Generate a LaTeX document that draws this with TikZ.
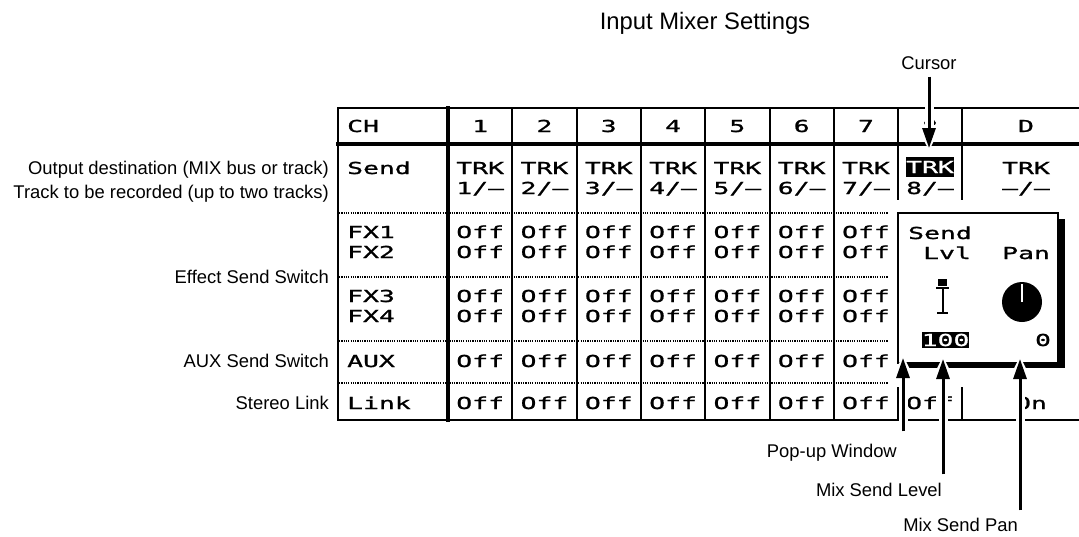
\documentclass[tikz,border=0pt]{standalone}
\usepackage{fontspec}
\setmainfont{Liberation Sans}
\newfontfamily\lcdfont[FakeStretch=1.6, FakeBold=1.2]{DejaVu Sans Mono}
\usetikzlibrary{arrows.meta,positioning}
\tikzset{
  lbl/.style    ={font=\fontsize{18.4}{22}\selectfont, inner sep=0pt,
                  text height=13pt, text depth=0pt},
  ttl/.style    ={font=\fontsize{23.8}{28}\selectfont, inner sep=0pt},
  lcd/.style    ={font=\lcdfont\fontsize{16.5}{20}\selectfont, inner sep=0pt,
                  text height=12pt, text depth=0pt},
  inv/.style    ={lcd, fill=black, text=white, inner ysep=4pt},
  grid/.style   ={line width=2pt, line cap=rect},
  heavy/.style  ={line width=4pt, line cap=rect},
  dots/.style   ={line width=1.3pt, dash pattern=on 1.2pt off 1.1pt},
  callout/.style={-{Triangle[length=20pt,width=13pt]}, line width=3pt},
  halo/.style   ={-{Triangle[length=26pt,width=24pt]}, line width=9pt,
                  white, shorten >=-3pt},
}

\begin{document}
\begin{tikzpicture}[x=1pt, y=-1pt]
  \useasboundingbox (0,0) rectangle (1079,536);
  % ---- headings
  \node[ttl] (title)  at (705,23) {Input Mixer Settings};
  \node[lbl] (cursor) at (929,63) {Cursor};
  % ---- table grid
  \draw[grid]  (338,108) -- (1079,108);
  \draw[grid]  (338,420) -- (1079,420);
  \draw[grid]  (338,108) -- (338,420);
  \draw[heavy] (338,144) -- (1079,144);
  \draw[heavy] (448,108) -- (448,420);
  \foreach \k in {1,...,8}
    \draw[grid] (448+64.3*\k,108) -- (448+64.3*\k,420);
  \foreach \y in {213,277,341,383}
    \draw[dots] (339,\y) -- (1079,\y);
  % ---- row heads
  \node[lcd, anchor=west] (chhd)   at (347,126) {CH};
  \node[lcd, anchor=west] (sendhd) at (347,168) {Send};
  \node[lcd, anchor=west] (fxa)    at (347,232) {FX1};
  \node[lcd, anchor=west] (fxb)    at (347,252) {FX2};
  \node[lcd, anchor=west] (fxc)    at (347,296) {FX3};
  \node[lcd, anchor=west] (fxd)    at (347,316) {FX4};
  \node[lcd, anchor=west] (auxhd)  at (347,361) {AUX};
  \node[lcd, anchor=west] (linkhd) at (347,403) {Link};
  % ---- channel columns 1-7
  \foreach \k in {1,...,7} {
    \node[lcd] (ch\k)   at (415.85+64.3*\k,126) {\k};
    \node[lcd] (trk\k)  at (415.85+64.3*\k,168) {TRK};
    \node[lcd] (dst\k)  at (415.85+64.3*\k,188) {\k/–};
    \node[lcd] (fxa\k)  at (415.85+64.3*\k,232) {Off};
    \node[lcd] (fxb\k)  at (415.85+64.3*\k,252) {Off};
    \node[lcd] (fxc\k)  at (415.85+64.3*\k,296) {Off};
    \node[lcd] (fxd\k)  at (415.85+64.3*\k,316) {Off};
    \node[lcd] (aux\k)  at (415.85+64.3*\k,361) {Off};
    \node[lcd] (link\k) at (415.85+64.3*\k,403) {Off};
  }
  % ---- channel 8 (cursor) and D
  \node[lcd] (ch8)   at (930,126)  {8};
  \node[inv] (trk8)  at (930,167)  {TRK};
  \node[lcd] (dst8)  at (930,188)  {8/–};
  \node[lcd] (link8) at (930,403)  {Off};
  \node[lcd] (chD)   at (1026,126) {D};
  \node[lcd] (trkD)  at (1026,168) {TRK};
  \node[lcd] (dstD)  at (1026,188) {–/–};
  \node[lcd] (linkD) at (1031,403) {On};
  % ---- pop-up window
  \fill[white] (888,200) rectangle (1079,387);
  \fill (904,219) rectangle (1065,368);
  \draw[grid, fill=white] (898,213) rectangle (1058,363);
  \node[lcd, anchor=west] (pnsend) at (908,233)  {Send};
  \node[lcd, anchor=west] (pnlvl)  at (923,253)  {Lvl};
  \node[lcd, anchor=west] (pnpan)  at (1002,253) {Pan};
  \fill (938,279) rectangle (947,286);
  \draw[line width=2pt] (936,288) -- (949,288)
    (942.5,288) -- (942.5,313) (937,313) -- (948,313);
  \fill (1022,302) circle (20pt);
  \draw[white, line width=2.4pt] (1022,302) -- (1022,284);
  \node[inv, inner ysep=2pt] (lvlval) at (945.5,340) {100};
  \node[lcd] (panval) at (1043,340) {0};
  % ---- side labels
  \node[lbl, left=18pt of sendhd] (outdst) {Output destination (MIX bus or track)};
  \node[lbl, anchor=east] (rectrk) at (329,192) {Track to be recorded (up to two tracks)};
  \node[lbl, anchor=east] (fxsw)   at (329,277) {Effect Send Switch};
  \node[lbl, left=18pt of auxhd]  (auxsw)  {AUX Send Switch};
  \node[lbl, left=18pt of linkhd] (stlink) {Stereo Link};
  % ---- callouts
  \node[lbl, anchor=east] (popw) at (897,451)  {Pop-up Window};
  \node[lbl, anchor=east] (lvlw) at (942,490)  {Mix Send Level};
  \node[lbl, anchor=east] (panw) at (1018,525) {Mix Send Pan};
  \coordinate (curtip) at (929,148);
  \coordinate (poptip) at (903,358);
  \coordinate (lvltip) at (943,359);
  \coordinate (pantip) at (1020,359);
  \draw[halo]    ([yshift=-7pt]cursor.south) -- (curtip);
  \draw[callout] ([yshift=-7pt]cursor.south) -- (curtip);
  \draw[halo]    ([yshift=13pt]popw.north -| poptip) -- (poptip);
  \draw[callout] ([yshift=13pt]popw.north -| poptip) -- (poptip);
  \draw[halo]    ([yshift=9pt]lvlw.north -| lvltip) -- (lvltip);
  \draw[callout] ([yshift=9pt]lvlw.north -| lvltip) -- (lvltip);
  \draw[halo]    ([yshift=8pt]panw.north -| pantip) -- (pantip);
  \draw[callout] ([yshift=8pt]panw.north -| pantip) -- (pantip);
\end{tikzpicture}
\end{document}
